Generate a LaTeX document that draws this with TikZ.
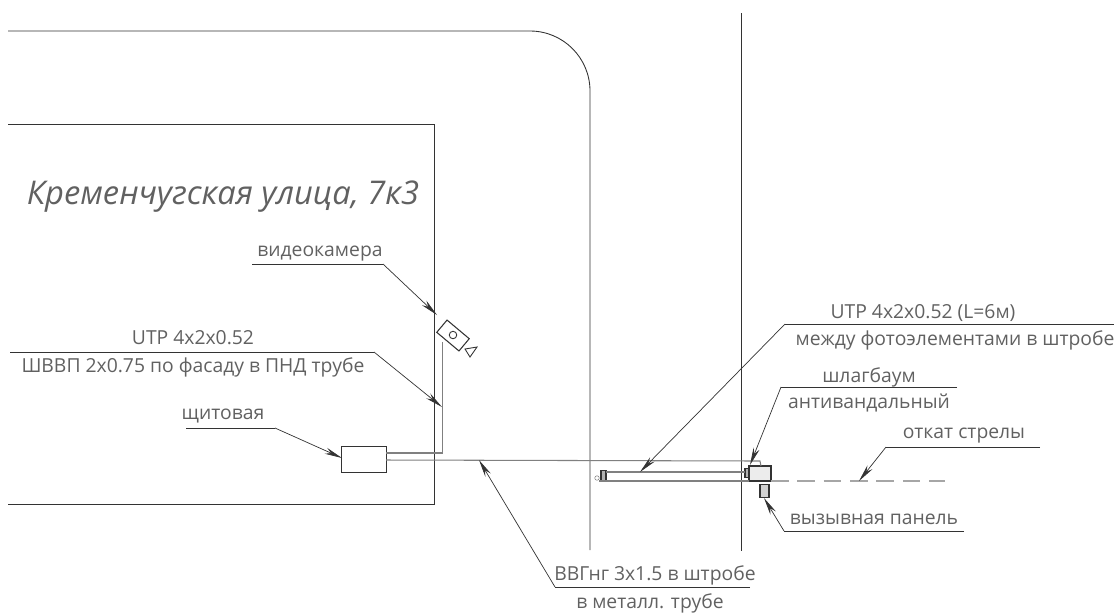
\documentclass[tikz,border=0pt]{standalone}
\usepackage{fontspec}
\setmainfont{Open Sans}
\usetikzlibrary{arrows.meta}
\definecolor{ink}{gray}{0.2}
\definecolor{txt}{gray}{0.38}
\tikzset{
    line/.style = {ink, line width = 0.5pt},
    cable/.style = {gray, line width = 0.6pt},
    leader/.style = {ink, line width = 0.4pt},
    pointer/.style = {leader, -{Stealth[length = 10pt, width = 3.6pt]}},
    label/.style = {txt, font = \fontsize{11pt}{12pt}\selectfont, inner sep = 0pt},
    part/.style = {draw = ink, fill = gray!35, line width = 0.6pt, inner sep = 0pt}
}
\begin{document}
\begin{tikzpicture}[x = 0.02cm, y = -0.02cm]
    \useasboundingbox (0,0) rectangle (1114,613);
    % street and building
    \draw[line, rounded corners = 1.2cm] (8,31)--(590,31)--(590,550);
    \draw[line] (741,13)--(741,551);
    \draw[line] (8,124)--(434,124)--(434,504)--(8,504);
    \draw (223,197)node(title)[txt, font = \fontsize{18.6pt}{20pt}\itshape, inner sep = 0pt]{Кременчугская улица, 7к3};
    %
    \draw 
    (364,459)node(shield)[draw = ink, fill = white, line width = 0.5pt, minimum width = 0.89cm, minimum height = 0.52cm, inner sep = 0pt]{}
    (453,335.5)node(cam)[draw = ink, fill = white, line width = 0.6pt, rotate = -40, minimum width = 0.58cm, minimum height = 0.32cm, inner sep = 0pt]{}
    (453,335)node(lens)[draw = ink, circle, line width = 0.5pt, minimum size = 0.15cm, inner sep = 0pt]{}
    (760,473.5)node(barrier)[part, line width = 1.4pt, fill = gray!15, minimum width = 0.44cm, minimum height = 0.3cm]{}
    (747,473)node(nub)[part, fill = gray!60, minimum width = 0.08cm, minimum height = 0.17cm]{}
    (603.5,475.5)node(post)[part, fill = gray!60, minimum width = 0.1cm, minimum height = 0.2cm]{}
    (597,478)node(hinge)[draw = gray, circle, line width = 0.3pt, minimum size = 0.09cm, inner sep = 0pt]{}
    (764.5,491)node(panel)[part, minimum width = 0.18cm, minimum height = 0.25cm]{};
    % cables
    \coordinate (c1) at (442.5,453);
    \coordinate (c2) at (442.5,342);
    \coordinate (p1) at (760,461);
    \coordinate (p2) at (761,466);
    \coordinate (u1) at (606,472);
    \coordinate (u2) at (745,472);
    \coordinate (u3) at (599,481);
    \coordinate (u4) at (749,481);
    \coordinate (d1) at (771,481);
    \coordinate (d2) at (945,481);
    \coordinate (s1) at (386,453);
    \coordinate (s2) at (386,460);
    \draw[cable] (s1)--(c1)--(c2);
    \draw[cable] (s2)--(p1)--(p2);
    \draw[cable] (u1)--(u2);
    \draw[cable] (u3)--(u4);
    \draw[cable, gray!70, dash pattern = on 10pt off 5pt] (d1)--(d2);
    % camera tail
    \coordinate (t1) at (465,349);
    \coordinate (t2) at (477,347);
    \coordinate (t3) at (470,357);
    \draw[line] (t1)--(t2)--(t3)--cycle;
    % labels
    \draw 
    (320,254)node(lcam)[label]{видеокамера}
    (193,338)node(lutp)[label]{UTP 4x2x0.52}
    (193,367)node(lshv)[label]{ШВВП 2x0.75 по фасаду в ПНД трубе}
    (223,416)node(lshield)[label]{щитовая}
    (923,313)node(lphoto)[label]{UTP 4x2x0.52 (L=6м)}
    (955,340)node(lbetween)[label]{между фотоэлементами в штробе}
    (869,377)node(lbar)[label]{шлагбаум}
    (869,403)node(lvand)[label]{антивандальный}
    (964,436)node(lroll)[label]{откат стрелы}
    (874,519)node(lpanel)[label]{вызывная панель}
    (655,575)node(lvvg)[label]{ВВГнг 3x1.5 в штробе}
    (650,603)node(lpipe)[label]{в металл. трубе};
    % leaders
    \coordinate (a1) at (252,264);
    \coordinate (a2) at (383,264);
    \coordinate (a3) at (437,315);
    \coordinate (b1) at (10,352);
    \coordinate (b2) at (374,352);
    \coordinate (b3) at (442,407);
    \coordinate (e1) at (186,428);
    \coordinate (e2) at (275,428);
    \coordinate (e3) at (342,458);
    \coordinate (f1) at (1114,324);
    \coordinate (f2) at (785,324);
    \coordinate (f3) at (640,472);
    \coordinate (g1) at (957,387);
    \coordinate (g2) at (781,387);
    \coordinate (g3) at (750,465);
    \coordinate (h1) at (1040,447);
    \coordinate (h2) at (886,447);
    \coordinate (h3) at (859,481);
    \coordinate (i1) at (964,531);
    \coordinate (i2) at (784,531);
    \coordinate (i3) at (764,498);
    \coordinate (j1) at (750,587);
    \coordinate (j2) at (555,587);
    \coordinate (j3) at (479,460);
    \draw[leader] (a1)--(a2);
    \draw[pointer] (a2)--(a3);
    \draw[leader] (b1)--(b2);
    \draw[pointer] (b2)--(b3);
    \draw[leader] (e1)--(e2);
    \draw[pointer] (e2)--(e3);
    \draw[leader] (f1)--(f2);
    \draw[pointer] (f2)--(f3);
    \draw[leader] (g1)--(g2);
    \draw[pointer] (g2)--(g3);
    \draw[leader] (h1)--(h2);
    \draw[pointer] (h2)--(h3);
    \draw[leader] (i1)--(i2);
    \draw[pointer] (i2)--(i3);
    \draw[leader] (j1)--(j2);
    \draw[pointer] (j2)--(j3);
\end{tikzpicture}
\end{document}
